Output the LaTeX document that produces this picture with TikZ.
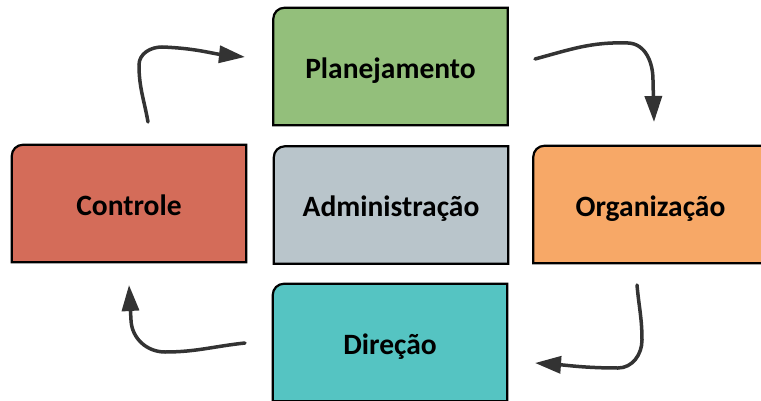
\documentclass[tikz,border=0pt]{standalone}
\usepackage{fontspec}
\setmainfont{Carlito}
\usetikzlibrary{arrows.meta,backgrounds}
\definecolor{cgreen}{HTML}{93BF7B}
\definecolor{cred}{HTML}{D46C59}
\definecolor{corange}{HTML}{F7A867}
\definecolor{cgray}{HTML}{B9C5CB}
\definecolor{cteal}{HTML}{55C4C2}
\definecolor{arrowc}{HTML}{333333}
\tikzset{
  box/.style={rectangle, minimum width=234pt, minimum height=117pt, inner sep=0pt,
    text height=23pt, text depth=0pt,
    font=\fontsize{29.5}{32}\selectfont\bfseries, text=black},
  boxline/.style={line width=2.2pt, draw=black},
  flow/.style={line width=3.5pt, draw=arrowc, line cap=round,
    -{Triangle[length=26pt,width=17pt]}}
}
\newcommand\tlbox[2]{\path[boxline,fill=#2] (#1.south west) -- ([yshift=-11pt]#1.north west)
  arc[start angle=180,end angle=90,radius=11pt] -- (#1.north east) -- (#1.south east) -- cycle;}
\begin{document}
\begin{tikzpicture}[x=1pt,y=1pt]
\useasboundingbox (0,0) rectangle (761,400);
\clip (0,0) rectangle (761,400);
\node[box] (plan) at (390.5,333.5) {Planejamento};
\node[box] (ctrl) at (129,196.5) {Controle};
\node[box] (adm) at (391,195) {Administração};
\node[box] (org) at (650.5,195.5) {Organização};
\node[box] (dir) at (390,57.5) {Direção};
\begin{scope}[on background layer]
\tlbox{plan}{cgreen}
\tlbox{ctrl}{cred}
\tlbox{adm}{cgray}
\tlbox{org}{corange}
\tlbox{dir}{cteal}
\end{scope}
\coordinate (a1s) at (148,278);
\coordinate (a1e) at (245,343);
\coordinate (a2s) at (535,341);
\coordinate (a2e) at (654,278);
\coordinate (a3s) at (637,115);
\coordinate (a3e) at (535,37);
\coordinate (a4s) at (245,57);
\coordinate (a4e) at (129,115);
\draw[flow] (a1s) to[out=100,in=-90] (139,335) to[out=90,in=180] (162,353) to[out=-2,in=174] (a1e);
\draw[flow] (a2s) to[out=15,in=178] (628,357) to[out=-2,in=90] (653,320) -- (a2e);
\draw[flow] (a3s) to[out=-85,in=90] (642,60) to[out=-90,in=0] (618,32) to[out=180,in=-4] (a3e);
\draw[flow] (a4s) to[out=186,in=0] (165,48) to[out=180,in=-88] (131,80) -- (a4e);
\end{tikzpicture}
\end{document}
